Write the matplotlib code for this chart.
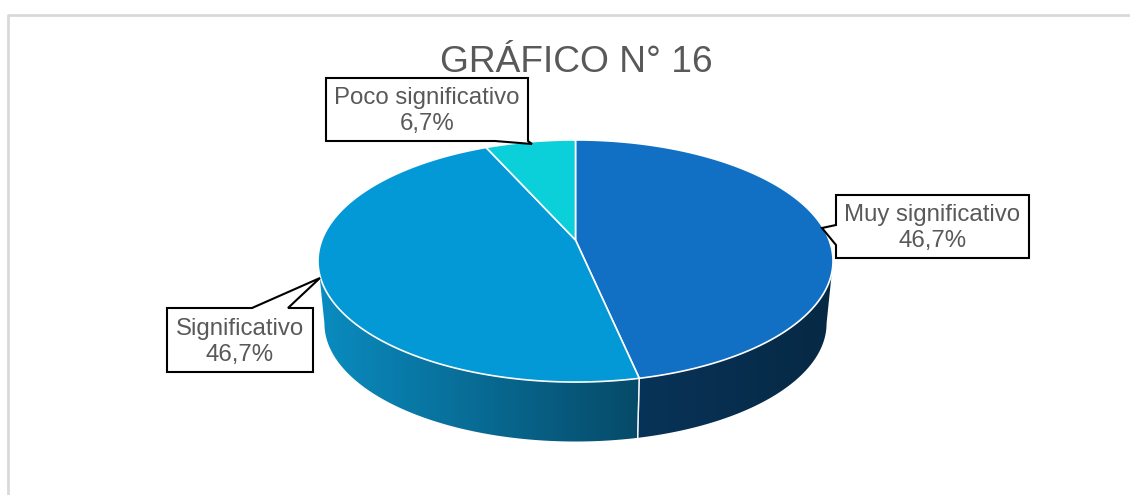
import numpy as np
import matplotlib
matplotlib.use("Agg")
from matplotlib import pyplot as plt
from matplotlib.patches import Polygon
from matplotlib.colors import LinearSegmentedColormap

plt.rcParams['font.family'] = ['Liberation Sans', 'DejaVu Sans']

# data
categories = ["Muy significativo", "Significativo", "Poco significativo"]
percentages = [46.7, 46.7, 6.7]
top_colors = ["#1170c4", "#0399d6", "#0bcfd9"]
side_colors = [("#083358", "#062944"), ("#0a8cc0", "#064a68"), ("#0aa8b0", "#088890")]
title = "GRÁFICO N° 16"

# geometry (pixels) - perspective view of a disc
X0, Y0 = 575.5, 240          # projected centre of the disc
k = 0.1736                   # perspective strength
A = 257.5 * np.sqrt(1 - k ** 2)
B = 117.4
depth = 63
shrink = 0.975

fig = plt.figure(figsize=(11.3, 4.95), dpi=100)
ax = fig.add_axes([0, 0, 1, 1])
ax.set_xlim(0, 1130)
ax.set_ylim(495, 0)
ax.axis("off")

# chart frame
ax.plot([8, 8, 1130], [495, 15, 15], color="#d9d9d9", lw=2, zorder=0)

total = sum(percentages)
bounds = np.cumsum([0] + percentages) / total * 360   # clockwise from 12 o'clock

def top_pt(alpha):
    r = np.radians(alpha)
    u, v = np.sin(r), np.cos(r)
    return X0 + A * u / (1 + k * v), Y0 - B * v / (1 + k * v)

def bot_pt(alpha):
    x, y = top_pt(alpha)
    return X0 + shrink * (x - X0), Y0 + depth + shrink * (y - Y0)

vis_lo = np.degrees(np.arccos(-k))
vis_hi = 360 - vis_lo

# side walls
for i in range(len(percentages)):
    a0, a1 = bounds[i], bounds[i + 1]
    lo, hi = max(a0, vis_lo), min(a1, vis_hi)
    if lo >= hi:
        continue
    al = np.linspace(lo, hi, 150)
    tx, ty = top_pt(al)
    bx, by = bot_pt(al[::-1])
    pts = np.column_stack([np.r_[tx, bx], np.r_[ty, by]])
    wall = Polygon(pts, closed=True, facecolor="none", edgecolor="none", zorder=2)
    ax.add_patch(wall)
    cmap = LinearSegmentedColormap.from_list("w%d" % i, side_colors[i])
    x0, x1 = pts[:, 0].min(), pts[:, 0].max()
    grad = np.linspace(0, 1, 256).reshape(1, -1)
    im = ax.imshow(grad, cmap=cmap, extent=[x0, x1, pts[:, 1].max(), pts[:, 1].min()],
                   aspect="auto", zorder=2, interpolation="bilinear")
    im.set_clip_path(wall)
    for t in (a0, a1):
        if vis_lo < t < vis_hi:
            px, py = top_pt(t)
            qx, qy = bot_pt(t)
            ax.plot([px, qx], [py, qy], color="white", lw=1, alpha=0.8, zorder=3)

ax.set_xlim(0, 1130)
ax.set_ylim(495, 0)

# top faces
for i in range(len(percentages)):
    al = np.linspace(bounds[i], bounds[i + 1], 200)
    tx, ty = top_pt(al)
    pts = np.column_stack([np.r_[X0, tx], np.r_[Y0, ty]])
    ax.add_patch(Polygon(pts, closed=True, facecolor=top_colors[i],
                         edgecolor="white", lw=1.2, zorder=4))

# callouts
callouts = [
    [(836, 195), (1029, 195), (1029, 258), (836, 258), (836, 245), (822, 228), (836, 225)],
    [(167, 308), (252, 308), (320, 278), (288, 308), (313, 308), (313, 372), (167, 372)],
    [(326, 78), (528, 78), (528, 141), (532, 144), (495, 141), (326, 141)],
]
label_pos = [(932.5, 228), (240, 342), (427, 111)]
for i, cat in enumerate(categories):
    ax.add_patch(Polygon(callouts[i], closed=True, facecolor="white",
                         edgecolor="black", lw=1.5, zorder=5))
    txt = "{}\n{}%".format(cat, ("%.1f" % percentages[i]).replace(".", ","))
    ax.text(label_pos[i][0], label_pos[i][1], txt, ha="center", va="center",
            fontsize=17.3, color="#595959", linespacing=1.25, zorder=6)

ax.text(576, 72, title, ha="center", va="baseline", fontsize=26.7,
        color="#595959", zorder=6)

fig.savefig("out.png", dpi=100, facecolor="white")
